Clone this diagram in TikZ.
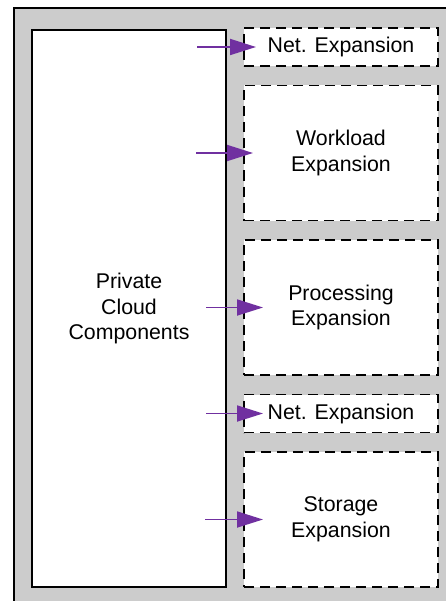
\documentclass[tikz,border=0pt]{standalone}
\usepackage{fontspec}
\setmainfont{Liberation Sans}
\usetikzlibrary{arrows.meta,positioning}
\definecolor{panelgray}{RGB}{204,204,204}
\definecolor{flowpurple}{RGB}{112,48,160}

\begin{document}
\begin{tikzpicture}[x=1bp, y=-1bp, node distance=19.5bp,
    every node/.style={font=\fontsize{21.4}{26}\selectfont},
    cloudbox/.style={draw, line width=1.8bp, fill=white, inner sep=0pt, outer sep=0pt,
      minimum width=194bp, minimum height=557bp, align=center},
    expbox/.style={draw, dash pattern=on 10bp off 6bp, line width=1.8bp, fill=white,
      inner sep=0pt, outer sep=0pt, minimum width=194bp, align=center},
    flow/.style={-{Triangle[length=26bp,width=16bp]}, draw=flowpurple, fill=flowpurple,
      line width=1.8bp}]
  \useasboundingbox (0,0) rectangle (446,601);
  \clip (0,0) rectangle (446,601);
  \draw[line width=1.8bp, fill=panelgray] (14,8) rectangle (470,630);

  \node[cloudbox] (cloud) at (129,308.5) {Private\\Cloud\\Components};

  \node[expbox, minimum height=38bp] (net1) at (341,47) {Net. Expansion};
  \node[expbox, minimum height=135bp, below=of net1] (workload) {Workload\\Expansion};
  \node[expbox, minimum height=135bp, below=of workload] (proc) {Processing\\Expansion};
  \node[expbox, minimum height=38bp, below=of proc] (net2) {Net. Expansion};
  \node[expbox, minimum height=135bp, below=of net2] (storage) {Storage\\Expansion};

  \draw[flow] ([xshift=-47bp]net1.west) -- ([xshift=12bp]net1.west);
  \draw[flow] ([xshift=-48bp]workload.west) -- ([xshift=9bp]workload.west);
  \draw[flow] ([xshift=-38bp]proc.west) -- ([xshift=19bp]proc.west);
  \draw[flow] ([xshift=-38bp]net2.west) -- ([xshift=19bp]net2.west);
  \draw[flow] ([xshift=-39bp]storage.west) -- ([xshift=19bp]storage.west);
\end{tikzpicture}
\end{document}
